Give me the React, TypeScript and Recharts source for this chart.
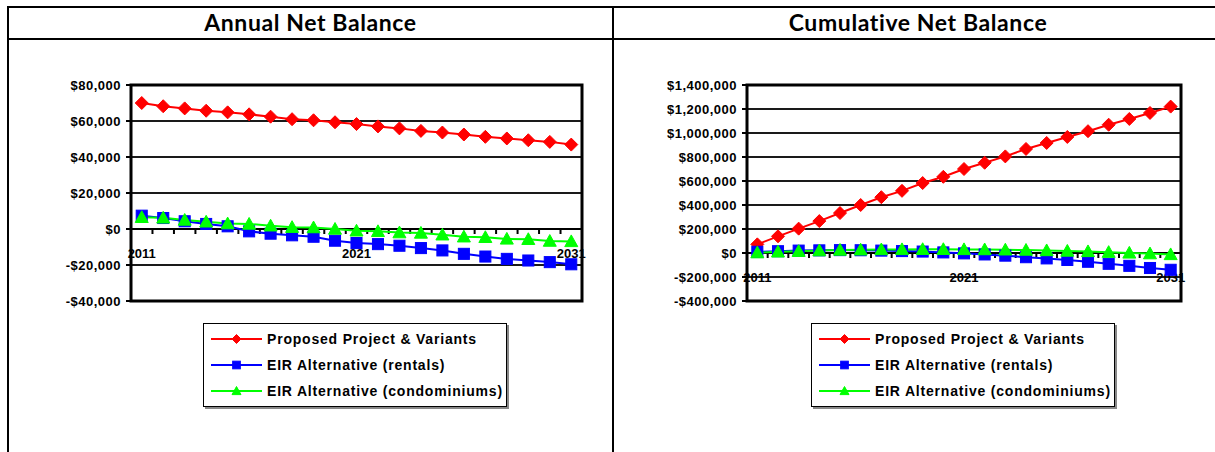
import { ComposedChart, Line, XAxis, YAxis, CartesianGrid, ReferenceLine, ReferenceArea, Legend } from 'recharts';

const years = [
  '2011', '2012', '2013', '2014', '2015', '2016', '2017', '2018', '2019', '2020', '2021',
  '2022', '2023', '2024', '2025', '2026', '2027', '2028', '2029', '2030', '2031',
];
const labeledYears = ['2011', '2021', '2031'];

const annualProposed = [
  70000, 68200, 67000, 65700, 64800, 63700, 62400, 61000, 60400, 59300, 58300,
  57000, 55900, 54500, 53600, 52500, 51200, 50300, 49300, 48400, 46900,
];
const annualRentals = [
  7400, 6100, 4300, 2800, 1500, -1300, -2600, -3500, -4300, -6500, -7800,
  -8400, -9300, -10600, -11900, -13800, -15300, -16600, -17500, -18400, -19600,
];
const annualCondos = [
  6500, 6200, 5000, 4000, 3000, 2800, 1800, 1000, 800, 0, -1000,
  -1300, -2000, -2200, -3200, -4300, -4600, -5500, -5700, -6700, -6900,
];

const cumulativeProposed = [
  72000, 139000, 203000, 266000, 333000, 400000, 465000, 518000, 583000, 635000, 700000,
  752000, 805000, 867000, 917000, 967000, 1015000, 1069000, 1117000, 1167000, 1220000,
];
const cumulativeRentals = [
  10000, 15000, 20000, 22000, 24000, 23000, 20000, 16000, 12000, 5000, -3000,
  -12000, -22000, -35000, -45000, -58000, -73000, -90000, -107000, -125000, -140000,
];
const cumulativeCondos = [
  3000, 10000, 15000, 20000, 25000, 27000, 29000, 30000, 31000, 31000, 30000,
  29000, 27000, 25000, 21000, 17000, 13000, 7000, 1000, -5000, -12000,
];

const annualTicks = [-40000, -20000, 0, 20000, 40000, 60000, 80000];
const cumulativeTicks = [-400000, -200000, 0, 200000, 400000, 600000, 800000, 1000000, 1200000, 1400000];

const seriesNames = ['Proposed Project & Variants', 'EIR Alternative (rentals)', 'EIR Alternative (condominiums)'];
const seriesColors = ['#ff0000', '#0000ff', '#00ff00'];
const seriesShapes = ['diamond', 'square', 'triangle'];

const AXIS_FONT = '"Liberation Sans", Arial, sans-serif';

const money = (v: number) => (v < 0 ? '-$' : '$') + Math.abs(v).toLocaleString('en-US');

const buildRows = (a: number[], b: number[], c: number[]) =>
  years.map((year, i) => ({ year, proposed: a[i], rentals: b[i], condos: c[i] }));

const annualRows = buildRows(annualProposed, annualRentals, annualCondos);
const cumulativeRows = buildRows(cumulativeProposed, cumulativeRentals, cumulativeCondos);

function Marker({ shape, cx, cy, r, color }: { shape: string; cx: number; cy: number; r: number; color: string }) {
  if (shape === 'diamond') {
    return <path d={`M${cx},${cy - r}L${cx + r},${cy}L${cx},${cy + r}L${cx - r},${cy}Z`} fill={color} stroke={color} />;
  }
  if (shape === 'square') {
    const s = r * 0.85;
    return <rect x={cx - s} y={cy - s} width={s * 2} height={s * 2} fill={color} stroke={color} />;
  }
  return (
    <path
      d={`M${cx},${cy - r}L${cx + r},${cy + r * 0.8}L${cx - r},${cy + r * 0.8}Z`}
      fill={color}
      stroke={color}
    />
  );
}

const dotFor = (idx: number) => (p: any) => {
  if (p.cx == null || p.cy == null) return <g key={p.key} />;
  return (
    <g key={`${idx}-${p.index}`}>
      <Marker shape={seriesShapes[idx]} cx={p.cx} cy={p.cy} r={6.5} color={seriesColors[idx]} />
    </g>
  );
};

// category axis drawn along the zero line, Excel style
function ZeroAxis(p: any) {
  const { x1, x2, y1 } = p;
  const band = (x2 - x1) / years.length;
  return (
    <g>
      <line x1={x1} x2={x2} y1={y1} y2={y1} stroke="#000" strokeWidth={2} />
      {years.slice(1).map((y, i) => (
        <line key={y} x1={x1 + band * (i + 1)} x2={x1 + band * (i + 1)} y1={y1} y2={y1 + 5} stroke="#000" strokeWidth={2} />
      ))}
      {labeledYears.map((y) => {
        const i = years.indexOf(y);
        return (
          <text
            key={y}
            x={x1 + band * (i + 0.5)}
            y={y1 + 29}
            textAnchor="middle"
            fontFamily={AXIS_FONT}
            fontWeight="bold"
            fontSize={13}
            fill="#000"
          >
            {y}
          </text>
        );
      })}
    </g>
  );
}

function LegendBox() {
  return (
    <div
      style={{
        width: 302,
        height: 80,
        border: '1.5px solid #000',
        boxShadow: '2px 2px 0 #888',
        background: '#fff',
        paddingTop: 2,
        boxSizing: 'content-box',
      }}
    >
      {seriesNames.map((name, i) => (
        <div key={name} style={{ display: 'flex', alignItems: 'center', height: 26 }}>
          <svg width={63} height={16} style={{ flex: 'none' }}>
            <line x1={7} x2={58} y1={8} y2={8} stroke={seriesColors[i]} strokeWidth={2} />
            <Marker shape={seriesShapes[i]} cx={32.5} cy={8} r={4.5} color={seriesColors[i]} />
          </svg>
          <span
            style={{
              fontFamily: AXIS_FONT,
              fontWeight: 'bold',
              fontSize: 14,
              letterSpacing: 0.8,
              color: '#000',
              whiteSpace: 'nowrap',
            }}
          >
            {name}
          </span>
        </div>
      ))}
    </div>
  );
}

function BalanceChart({
  rows,
  ticks,
  width,
  yWidth,
  right,
  legendLeft,
}: {
  rows: any[];
  ticks: number[];
  width: number;
  yWidth: number;
  right: number;
  legendLeft: number;
}) {
  const lo = ticks[0];
  const hi = ticks[ticks.length - 1];
  const keys = ['proposed', 'rentals', 'condos'];
  return (
    <ComposedChart width={width} height={411} data={rows} margin={{ top: 44, right, bottom: 151, left: 0 }}>
      <CartesianGrid vertical={false} stroke="#1a1a1a" strokeWidth={2} />
      <XAxis dataKey="year" scale="band" hide />
      <YAxis
        width={yWidth}
        domain={[lo, hi]}
        ticks={ticks}
        interval={0}
        tickFormatter={money}
        axisLine={false}
        tickSize={5}
        tickMargin={5}
        tickLine={{ stroke: '#000', strokeWidth: 2 }}
        tick={{ fill: '#000', fontFamily: AXIS_FONT, fontWeight: 'bold', fontSize: 13, letterSpacing: 0.5 }}
      />
      <ReferenceLine y={0} shape={(p: any) => <ZeroAxis {...p} />} />
      {keys.map((k, i) => (
        <Line
          key={k}
          dataKey={k}
          name={seriesNames[i]}
          stroke={seriesColors[i]}
          strokeWidth={2}
          dot={dotFor(i)}
          activeDot={false}
          isAnimationActive={false}
        />
      ))}
      <ReferenceArea y1={lo} y2={hi} fill="none" fillOpacity={0} stroke="#000" strokeWidth={3} />
      <Legend
        layout="vertical"
        align="center"
        verticalAlign="middle"
        content={() => <LegendBox />}
        wrapperStyle={{ left: legendLeft, top: 282, width: 306 }}
      />
    </ComposedChart>
  );
}

const titleStyle = {
  position: 'absolute' as const,
  top: 7,
  height: 31,
  lineHeight: '31px',
  textAlign: 'center' as const,
  fontFamily: 'Lato, "Open Sans", sans-serif',
  fontWeight: 'bold' as const,
  fontSize: 23,
  letterSpacing: 0.6,
  color: '#000',
};

export default function App() {
  const rule = (left: number, top: number, w: number, h: number) => (
    <div style={{ position: 'absolute', left, top, width: w, height: h, background: '#000' }} />
  );
  return (
    <div style={{ position: 'absolute', left: 0, top: 0, width: 1215, height: 452, background: '#fff', overflow: 'hidden' }}>
      {rule(7, 6, 1208, 2)}
      {rule(7, 38, 1208, 2)}
      {rule(7, 6, 2, 446)}
      {rule(612, 6, 2, 446)}
      <div style={{ ...titleStyle, left: 9, width: 603 }}>Annual Net Balance</div>
      <div style={{ ...titleStyle, left: 614, width: 608 }}>Cumulative Net Balance</div>
      <div style={{ position: 'absolute', left: 8, top: 41 }}>
        <BalanceChart rows={annualRows} ticks={annualTicks} width={604} yWidth={123} right={30} legendLeft={195} />
      </div>
      <div style={{ position: 'absolute', left: 614, top: 41 }}>
        <BalanceChart rows={cumulativeRows} ticks={cumulativeTicks} width={601} yWidth={133} right={34} legendLeft={197} />
      </div>
    </div>
  );
}
